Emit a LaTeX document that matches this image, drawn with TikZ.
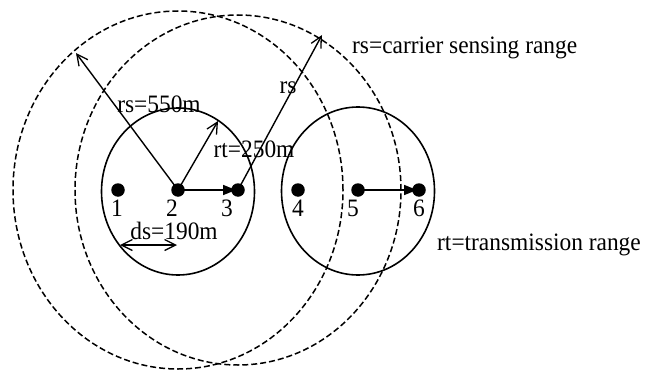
\documentclass[tikz,border=0pt]{standalone}
\usepackage{fontspec}
\setmainfont{Liberation Serif}
\usetikzlibrary{arrows.meta}
\tikzset{
  dot/.style={circle,fill=black,inner sep=0pt,minimum size=13.5pt},
  trange/.style={line width=1.6pt},
  csense/.style={line width=1.5pt,dash pattern=on 6pt off 3pt},
  radius arrow/.style={line width=1.4pt,-{Straight Barb[length=11pt,width=11pt,line width=1.3pt]}},
  send/.style={line width=1.6pt,-{Triangle[length=13pt,width=10pt]},shorten >=2pt},
  lbl/.style={inner sep=0pt,anchor=base,font=\fontsize{23.4}{28}\selectfont}
}
\newcommand{\tallt}[1]{\scalebox{1}[1.07]{#1}}
\begin{document}
\begin{tikzpicture}[x=1pt,y=-1pt]
\useasboundingbox (0,0) rectangle (655,369);
% ranges
\draw[trange] (178,191.5) ellipse [x radius=76.5pt, y radius=83.5pt];
\draw[trange] (358,191) ellipse [x radius=76.5pt, y radius=84pt];
\draw[csense] (178,190) ellipse [x radius=165pt, y radius=179pt];
\draw[csense] (238,190) ellipse [x radius=163pt, y radius=175pt];
% stations
\node[dot] (n1) at (118,190) {};
\node[dot] (n2) at (178,190) {};
\node[dot] (n3) at (238,190) {};
\node[dot] (n4) at (298,190) {};
\node[dot] (n5) at (358,190) {};
\node[dot] (n6) at (419,190) {};
% arrow ends
\coordinate (rsA) at (76,53);
\coordinate (rtA) at (218,121);
\coordinate (rsB) at (322,35);
\coordinate (dsL) at (120,245);
\coordinate (dsR) at (177,245);
% connectors
\draw[radius arrow] (n2.center) -- (rsA);
\draw[radius arrow] (n2.center) -- (rtA);
\draw[radius arrow] (n3.center) -- (rsB);
\draw[send] (n2.center) -- (n3.center);
\draw[send] (n5.center) -- (n6.center);
\draw[line width=1.4pt,{Straight Barb[length=11pt,width=11pt,line width=1.3pt]}-{Straight Barb[length=11pt,width=11pt,line width=1.3pt]}] (dsL) -- (dsR);
% labels
\node[lbl] (l1) at (117,216) {\tallt{1}};
\node[lbl] (l2) at (172,216) {\tallt{2}};
\node[lbl] (l3) at (227,216) {\tallt{3}};
\node[lbl] (l4) at (298,216) {\tallt{4}};
\node[lbl] (l5) at (353,216) {\tallt{5}};
\node[lbl] (l6) at (419,216) {\tallt{6}};
\node[lbl] (t1) at (159,112) {\tallt{rs=550m}};
\node[lbl] (t2) at (254,157) {\tallt{rt=250m}};
\node[lbl] (t3) at (288,93) {\tallt{rs}};
\node[lbl] (t4) at (174,239) {\tallt{ds=190m}};
\node[lbl,anchor=base west] (t5) at (352,53) {\tallt{rs=carrier sensing range}};
\node[lbl,anchor=base west] (t6) at (437,250) {\tallt{rt=transmission range}};
\end{tikzpicture}
\end{document}
